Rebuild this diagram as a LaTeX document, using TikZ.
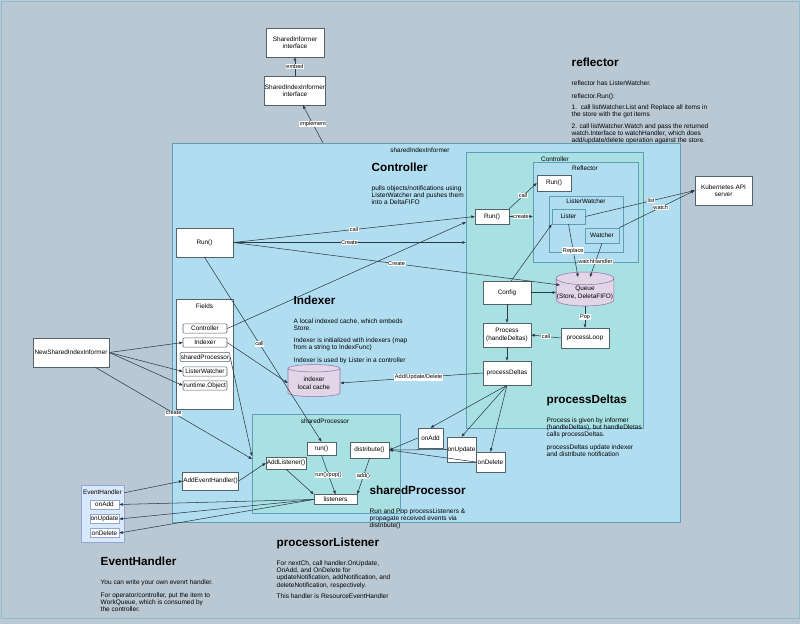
\documentclass[tikz,border=0pt]{standalone}
\usepackage{fontspec}
\setmainfont{Liberation Sans}
\usetikzlibrary{arrows.meta,shapes.geometric,calc}
\definecolor{bgray}{HTML}{BAC8D3}
\definecolor{infblue}{HTML}{B1DDF0}
\definecolor{ctrlteal}{HTML}{A9E0E2}
\definecolor{contline}{HTML}{5E9FB6}
\definecolor{cylfill}{HTML}{E1D5E7}
\definecolor{cylline}{HTML}{9673A6}
\definecolor{ehfill}{HTML}{DAE8FC}
\definecolor{ehline}{HTML}{8FA8D8}
\definecolor{ink}{HTML}{2B3A46}
\tikzset{
  box/.style={draw=ink!80, fill=white, font=\fontsize{4.8}{5.6}\selectfont, align=center, inner sep=0.5pt},
  field/.style={box, rounded corners=0.8pt, minimum width=33pt, minimum height=7pt},
  cont/.style={draw=contline, minimum width=#1},
  store/.style={cylinder, shape border rotate=90, aspect=0.22, draw=cylline, fill=cylfill,
    font=\fontsize{4.8}{5.6}\selectfont, align=center, inner sep=0.5pt},
  lbl/.style={font=\fontsize{4.8}{5.6}\selectfont},
  head/.style={font=\fontsize{8.8}{10}\selectfont\bfseries, anchor=west},
  note/.style={font=\fontsize{4.9}{5.4}\selectfont, anchor=north west, align=left},
  elbl/.style={fill=white, font=\fontsize{4.2}{4.6}\selectfont, inner sep=0.4pt},
  arr/.style={draw=ink, -{Triangle[length=2.6pt,width=2pt]}}
}
\begin{document}
\begin{tikzpicture}[x=0.75pt, y=-0.75pt]
  \useasboundingbox (0,0) rectangle (800,624);
  \fill[bgray] (0,0) rectangle (800,624);
  \draw[contline!70] (1,1) rectangle (799,618);

  % containers
  \node[cont=381pt, minimum height=284.25pt, fill=infblue] (informer) at (426,332.5) {};
  \node[cont=132.75pt, minimum height=207pt, fill=ctrlteal] (controller) at (554.5,290) {};
  \node[cont=78.75pt, minimum height=75pt, fill=infblue] (reflector) at (585.5,212) {};
  \node[cont=55.5pt, minimum height=42pt, fill=infblue] (listerWatcher) at (586,224) {};
  \node[cont=111pt, minimum height=74.25pt, fill=ctrlteal] (sharedProc) at (326,463.5) {};
  \node[box, minimum width=42.75pt, minimum height=82.5pt] (fields) at (204.5,354) {};
  \node[draw=ehline, fill=ehfill, minimum width=32.25pt, minimum height=42.75pt] (eventHandler) at (102.5,513.5) {};

  \node[lbl] at (420,150) {sharedIndexInformer};
  \node[lbl] at (555,159) {Controller};
  \node[lbl] at (585,168) {Reflector};
  \node[lbl] at (586,201) {ListerWatcher};
  \node[lbl] at (325,421) {sharedProcessor};
  \node[lbl] at (204.5,306) {Fields};
  \node[lbl] at (102.5,492) {EventHandler};

  % nodes
  \node[box, minimum width=43.5pt, minimum height=21.75pt] (siIface) at (295,42.5) {SharedInformer\\interface};
  \node[box, minimum width=43.5pt, minimum height=21.75pt] (sidxIface) at (295,90.5) {SharedIndexInformer\\interface};
  \node[box, minimum width=42.75pt, minimum height=21.75pt] (k8s) at (723.5,190.5) {Kubernetes API\\server};
  \node[box, minimum width=25.5pt, minimum height=12pt] (runR) at (554,183) {Run()};
  \node[box, draw=contline, fill=infblue, minimum width=24.75pt, minimum height=11.25pt] (lister) at (568.5,216.5) {Lister};
  \node[box, draw=contline, fill=infblue, minimum width=25.5pt, minimum height=11.25pt] (watcher) at (602,235.5) {Watcher};
  \node[box, minimum width=25.5pt, minimum height=11.25pt] (runC) at (492,216.5) {Run()};
  \node[box, minimum width=36pt, minimum height=17.25pt] (config) at (507,292.5) {Config};
  \node[store, minimum width=39pt, minimum height=25.5pt] (queue) at (585,293) {Queue\\(Store, DeletaFIFO)};
  \node[box, minimum width=36pt, minimum height=18pt] (process) at (507,335) {Process\\(handleDeltas)};
  \node[box, minimum width=36pt, minimum height=15pt] (processLoop) at (585,338) {processLoop};
  \node[box, minimum width=36pt, minimum height=18pt] (processDeltas) at (507,373) {processDeltas};
  \node[box, minimum width=18.75pt, minimum height=15pt] (onAddN) at (430.5,438) {onAdd};
  \node[box, minimum width=21.75pt, minimum height=18.75pt] (onUpdateN) at (461.5,449.5) {onUpdate};
  \node[box, minimum width=21.75pt, minimum height=15pt] (onDeleteN) at (490.5,462) {onDelete};
  \node[box, minimum width=21.75pt, minimum height=9.75pt] (runP) at (321.5,448.5) {run()};
  \node[box, minimum width=29.25pt, minimum height=12pt] (distribute) at (369.5,450) {distribute()};
  \node[box, minimum width=30pt, minimum height=9pt] (addListener) at (286,463) {AddListener()};
  \node[box, minimum width=32.25pt, minimum height=7.5pt] (listeners) at (335.5,499.5) {listeners};
  \node[box, minimum width=41.25pt, minimum height=13.5pt] (addEH) at (210.5,481) {AddEventHandler()};
  \node[box, minimum width=42.75pt, minimum height=21.75pt] (runL) at (204.5,242.5) {Run()};
  \node[field] (fController) at (205,328.5) {Controller};
  \node[field] (fIndexer) at (205,342.5) {Indexer};
  \node[field] (fSharedProc) at (205,357) {sharedProcessor};
  \node[field] (fListerWatcher) at (205,371.5) {ListerWatcher};
  \node[field] (fRuntime) at (205,385.5) {runtime.Object};
  \node[box, minimum width=57pt, minimum height=21.75pt] (newSII) at (71,352.5) {NewSharedIndexInformer};
  \node[store, minimum width=39pt, minimum height=24pt] (cache) at (314,383) {indexer\\local cache};
  \node[box, draw=ehline, minimum width=21.75pt, minimum height=7pt] (ehAdd) at (104.5,504.5) {onAdd};
  \node[box, draw=ehline, minimum width=21.75pt, minimum height=7pt] (ehUpdate) at (104.5,519) {onUpdate};
  \node[box, draw=ehline, minimum width=21.75pt, minimum height=7pt] (ehDelete) at (104.5,533) {onDelete};

  % free ends
  \coordinate (implOut) at (323,143);
  \coordinate (ctrlIn) at (466,222);
  \coordinate (queueIn) at (560,285);
  \coordinate (queueTopA) at (578,277);
  \coordinate (queueTopB) at (590,277);
  \coordinate (spInA) at (252,456);
  \coordinate (spInB) at (252,459);

  % connectors
  \draw[arr] (sidxIface) -- node[elbl] {embed} (siIface);
  \draw[arr] (implOut) -- node[elbl] {implement} (sidxIface);
  \draw[arr] (runL.east) -- node[elbl, pos=0.5] {call} (runC.west);
  \draw[arr] (runL.east) -- node[elbl] {Create} (controller.west |- runL.east);
  \draw[arr] (runL.east) -- node[elbl, pos=0.5] {Create} (queueIn);
  \draw[arr] (runL.south) -- node[elbl, pos=0.47] {call} (runP.north);
  \draw[arr] (fController.east) -- (ctrlIn);
  \draw[arr] (fIndexer.east) -- (cache.west);
  \draw[arr] (fSharedProc.east) -- (spInA);
  \draw[arr] (newSII.east) -- (fIndexer.west);
  \draw[arr] (newSII.east) -- (fListerWatcher.west);
  \draw[arr] (newSII.east) -- (fRuntime.west);
  \draw[arr] (newSII.south east) ++(-14,0) -- node[elbl] {create} (spInB);
  \draw[arr] (runC.north east) -- node[elbl] {call} (runR.west);
  \draw[arr] (runC.east) -- node[elbl] {create} (reflector.west |- runC.east);
  \draw[arr] (config.70) -- (lister.south west);
  \draw[arr] (config.east) -- (queue.west |- config.east);
  \draw[arr] (lister.south) -- node[elbl, pos=0.5] {Replace} (queueTopA);
  \draw[arr] (watcher.south) -- node[elbl, pos=0.55] {watchHandler} (queueTopB);
  \draw[arr] (lister.east) -- node[elbl, pos=0.6] {list} (k8s.west);
  \draw[arr] (watcher.north east) -- node[elbl, pos=0.55] {watch} (k8s.west);
  \draw[arr] (queue.south) -- node[elbl] {Pop} (processLoop.north);
  \draw[arr] (processLoop.west) -- node[elbl] {call} (process.east);
  \draw[arr] (config.south) -- (process.north);
  \draw[arr] (process.south) -- (processDeltas.north);
  \draw[arr] (processDeltas.west) -- node[elbl, pos=0.45] {Add/Update/Delete} (cache.east);
  \draw[arr] (processDeltas.south) -- (onAddN.north);
  \draw[arr] (processDeltas.south) -- (onUpdateN.north);
  \draw[arr] (processDeltas.south) -- (onDeleteN.north);
  \draw[arr] (onAddN.west) -- (distribute.east);
  \draw[arr] (onUpdateN.west) -- (distribute.east);
  \draw[arr] (onDeleteN.west) -- (distribute.east);
  \draw[arr] (distribute.south) -- node[elbl] {add()} (listeners.north east);
  \draw[arr] (runP.south) -- node[elbl] {run()/pop()} (listeners.north);
  \draw[arr] (addListener.south) -- (listeners.north west);
  \draw[arr] (addEH.east) -- (addListener.west);
  \draw[arr] (eventHandler.north east) ++(0,8) -- (addEH.west);
  \draw[arr] (listeners.west) -- (ehAdd.east);
  \draw[arr] (listeners.west) -- (ehUpdate.east);
  \draw[arr] (listeners.west) -- (ehDelete.east);

  % notes
  \node[head] at (567,62) {reflector};
  \node[note] at (567,76) {reflector has ListerWatcher.};
  \node[note] at (567,89) {reflector.Run():};
  \node[note] at (567,100) {1.\ \ call listWatcher.List and Replace all items in\\the store with the got items};
  \node[note] at (567,119) {2. call listWatcher.Watch and pass the returned\\watch.Interface to watchHandler, which does\\add/update/delete operation against the store.};
  \node[head] at (367,167) {Controller};
  \node[note] at (367,181) {pulls objects/notifications using\\ListerWatcher and pushes them\\into a DeltaFIFO};
  \node[head] at (289,300) {Indexer};
  \node[note] at (289,314) {A local indexed cache, which embeds\\Store.};
  \node[note] at (289,333) {Indexer is initialized with indexers (map\\from a string to IndexFunc)};
  \node[note] at (289,353) {Indexer is used by Lister in a controller};
  \node[head] at (542,400) {processDeltas};
  \node[note] at (542,413) {Process is given by informer\\(handleDeltas), but handleDletas\\calls processDeltas.};
  \node[note] at (542,440) {processDeltas update indexer\\and distribute notification};
  \node[head] at (365,490) {sharedProcessor};
  \node[note] at (365,504) {Run and Pop processListeners \&\\propagate received events via\\distribute()};
  \node[head] at (272,543) {processorListener};
  \node[note] at (272,556) {For nextCh, call handler.OnUpdate,\\OnAdd, and OnDelete for\\updateNotification, addNotification, and\\deleteNotification, respectively.};
  \node[note] at (272,589) {This handler is ResourceEventHandler};
  \node[head] at (96,561) {EventHandler};
  \node[note] at (96,575) {You can write your own evenrt handler.};
  \node[note] at (96,588) {For operator/controller, put the item to\\WorkQueue, which is consumed by\\the controller.};
\end{tikzpicture}
\end{document}
